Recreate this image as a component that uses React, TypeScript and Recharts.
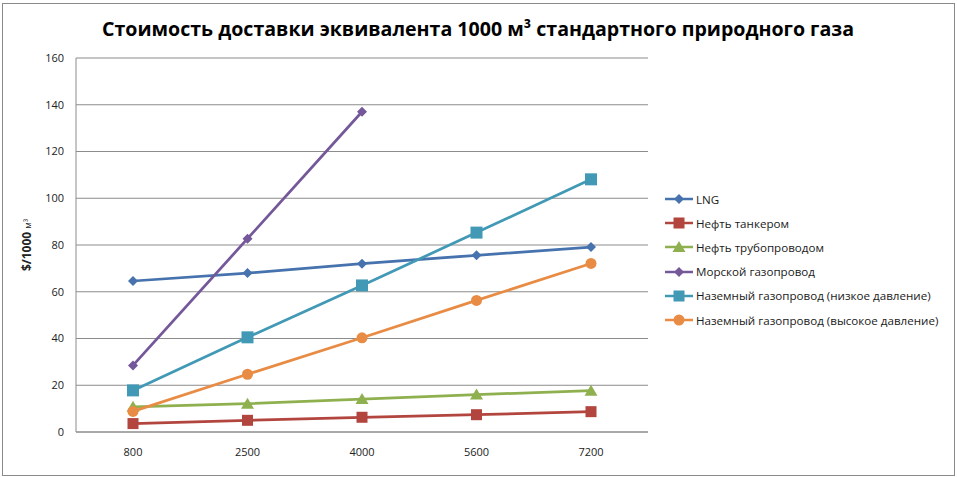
import { LineChart, Line, XAxis, YAxis, CartesianGrid, Legend } from "recharts";

const distances = ["800", "2500", "4000", "5600", "7200"];

const lng = [64.6, 68.0, 72.0, 75.6, 79.1];
const oilTanker = [3.6, 5.0, 6.3, 7.4, 8.7];
const oilPipe = [10.8, 12.1, 14.1, 16.0, 17.7];
const seaPipe = [28.5, 82.7, 137.0, null, null];
const landLow = [17.8, 40.5, 62.7, 85.3, 108.1];
const landHigh = [8.8, 24.7, 40.3, 56.3, 72.1];

const yTicks = [0, 20, 40, 60, 80, 100, 120, 140, 160];

const series = [
  { key: "lng", name: "LNG", values: lng, color: "#4672AE", marker: "diamond" },
  { key: "oilTanker", name: "Нефть танкером", values: oilTanker, color: "#B3453F", marker: "square" },
  { key: "oilPipe", name: "Нефть трубопроводом", values: oilPipe, color: "#8FB04F", marker: "triangle" },
  { key: "seaPipe", name: "Морской газопровод", values: seaPipe, color: "#74589A", marker: "diamond" },
  { key: "landLow", name: "Наземный газопровод (низкое давление)", values: landLow, color: "#4199B5", marker: "squareBig" },
  { key: "landHigh", name: "Наземный газопровод (высокое давление)", values: landHigh, color: "#E88B44", marker: "circle" },
];

const data = distances.map((d, i) => {
  const row: Record<string, any> = { distance: d };
  series.forEach((s) => {
    row[s.key] = s.values[i];
  });
  return row;
});

const font = "'Open Sans', 'Noto Sans', sans-serif";
const legendWidth = 290;

function Marker({ type, cx, cy, color }: { type: string; cx: number; cy: number; color: string }) {
  if (type === "diamond") {
    const r = 5;
    return <path d={`M${cx},${cy - r}L${cx + r},${cy}L${cx},${cy + r}L${cx - r},${cy}Z`} fill={color} />;
  }
  if (type === "square") {
    return <rect x={cx - 5.5} y={cy - 5.5} width={11} height={11} fill={color} />;
  }
  if (type === "squareBig") {
    return <rect x={cx - 6} y={cy - 6} width={12} height={12} fill={color} />;
  }
  if (type === "triangle") {
    return <path d={`M${cx},${cy - 6}L${cx + 6.5},${cy + 5}L${cx - 6.5},${cy + 5}Z`} fill={color} />;
  }
  return <circle cx={cx} cy={cy} r={5.5} fill={color} />;
}

function makeDot(type: string, color: string) {
  return (props: any) => {
    const { cx, cy, index, value } = props;
    if (value == null || cy == null) return <g key={index} />;
    return (
      <g key={index}>
        <Marker type={type} cx={cx} cy={cy} color={color} />
      </g>
    );
  };
}

function LegendContent() {
  return (
    <div style={{ fontFamily: font, fontSize: 11.6, color: "#1a1a1a" }}>
      {series.map((s) => (
        <div key={s.key} style={{ display: "flex", alignItems: "center", height: 24.2 }}>
          <svg width={30} height={14} style={{ marginRight: 2 }}>
            <line x1={1} y1={7} x2={29} y2={7} stroke={s.color} strokeWidth={2.5} />
            <Marker type={s.marker === "squareBig" ? "square" : s.marker} cx={15} cy={7} color={s.color} />
          </svg>
          <span style={{ whiteSpace: "nowrap" }}>{s.name}</span>
        </div>
      ))}
    </div>
  );
}

export default function App() {
  return (
    <div style={{ position: "relative", width: 957, height: 477, background: "#fff" }}>
      <style>{`body{margin:0}`}</style>
      <div
        style={{
          position: "absolute",
          left: 2,
          top: 3,
          width: 951,
          height: 471,
          border: "1px solid #8a8a8a",
          pointerEvents: "none",
        }}
      />
      <svg
        width={957}
        height={477}
        style={{ position: "absolute", left: 0, top: 0, pointerEvents: "none" }}
      >
        <text
          x={478}
          y={36}
          textAnchor="middle"
          fontFamily={font}
          fontWeight="bold"
          fontSize={20}
          fill="#000"
          textLength={752}
          lengthAdjust="spacingAndGlyphs"
        >
          Стоимость доставки эквивалента 1000 м³ стандартного природного газа
        </text>
        <text
          transform="translate(31,245) rotate(-90)"
          textAnchor="middle"
          fontFamily={font}
          fill="#222"
        >
          <tspan fontSize={12} fontWeight="bold">$/1000 </tspan>
          <tspan fontSize={9}>м³</tspan>
        </text>
      </svg>
      <LineChart
        width={957}
        height={477}
        data={data}
        margin={{ top: 58, right: 309 - legendWidth, bottom: 0, left: 0 }}
        style={{ position: "absolute", left: 0, top: 0 }}
      >
        <CartesianGrid vertical={false} stroke="#8c8c8c" strokeWidth={1} />
        <XAxis
          dataKey="distance"
          height={45}
          padding={{ left: 57, right: 57 }}
          tickLine={false}
          tickSize={8}
          tickMargin={8}
          stroke="#8c8c8c"
          tick={{ fill: "#222", fontSize: 11, fontFamily: font }}
        />
        <YAxis
          width={76}
          domain={[0, 160]}
          ticks={yTicks}
          interval={0}
          tickLine={false}
          tickSize={6}
          tickMargin={6}
          stroke="#8c8c8c"
          tick={{ fill: "#222", fontSize: 11, fontFamily: font }}
        />
        <Legend
          layout="vertical"
          align="right"
          verticalAlign="top"
          content={<LegendContent />}
          wrapperStyle={{ left: 664, top: 187, width: legendWidth }}
        />
        {series.map((s) => (
          <Line
            key={s.key}
            type="linear"
            dataKey={s.key}
            name={s.name}
            stroke={s.color}
            strokeWidth={2.75}
            dot={makeDot(s.marker, s.color)}
            activeDot={false}
            connectNulls={false}
            isAnimationActive={false}
          />
        ))}
      </LineChart>
    </div>
  );
}
